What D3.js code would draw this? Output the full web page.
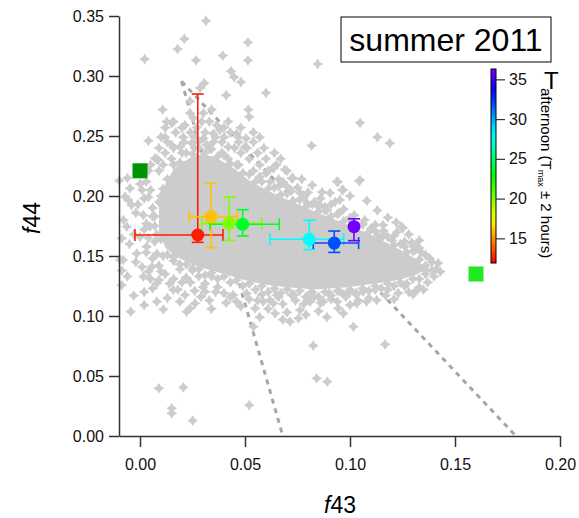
<!DOCTYPE html>
<html>
<head>
<meta charset="utf-8">
<script src="https://cdn.jsdelivr.net/npm/d3@7"></script>
<style>
  body { margin: 0; background: #fff; }
  svg { font-family: "Liberation Sans", Arial, sans-serif; }
</style>
</head>
<body>
<svg id="chart" width="579" height="518"></svg>
<script>
// gray cloud, dense core read as an envelope: f43, upper f44, lower f44
const coreF43    = [0.009, 0.012, 0.016, 0.020, 0.025, 0.030, 0.036, 0.044, 0.052, 0.060, 0.070, 0.083, 0.099, 0.112, 0.123, 0.131, 0.135];
const coreTop    = [0.190, 0.210, 0.222, 0.228, 0.233, 0.235, 0.232, 0.224, 0.213, 0.205, 0.197, 0.187, 0.176, 0.166, 0.156, 0.148, 0.141];
const coreBottom = [0.170, 0.157, 0.151, 0.147, 0.143, 0.140, 0.137, 0.133, 0.129, 0.126, 0.124, 0.122, 0.124, 0.127, 0.130, 0.134, 0.138];

// gray cloud, single points around the core [f43, f44]
const cloudPts = [
  // upper outliers
  [0.0314,0.346],[0.0211,0.331],[0.0179,0.3225],[0.0022,0.314],[0.0267,0.313],[0.0394,0.317],[0.0514,0.328],[0.0514,0.313],
  [0.0433,0.304],[0.0448,0.299],[0.0481,0.295],[0.060,0.286],[0.041,0.284],[0.0306,0.294],[0.0286,0.290],[0.0108,0.272],
  [0.0238,0.279],[0.0341,0.272],[0.0516,0.272],[0.052,0.266],[0.0127,0.262],[0.0151,0.261],[0.0214,0.259],[0.0254,0.265],
  [0.0238,0.269],[0.0302,0.269],[0.0294,0.262],[0.0365,0.259],[0.0381,0.255],[0.0349,0.252],[0.046,0.252],[0.0468,0.249],
  [0.0505,0.248],[0.004,0.246],[0.0119,0.249],[0.0151,0.2425],[0.0206,0.249],[0.019,0.241],[0.0246,0.244],[0.0302,0.248],
  [0.0317,0.2425],[0.0349,0.245],[0.042,0.241],[0.050,0.241],
  [0.0846,0.310],[0.1048,0.261],[0.113,0.249],[0.119,0.244],[0.0817,0.242],
  // upper wedge
  [0.016,0.262],[0.033,0.262],[0.042,0.262],[0.012,0.257],[0.020,0.257],[0.027,0.257],[0.040,0.257],[0.048,0.257],
  [0.017,0.253],[0.024,0.253],[0.031,0.253],[0.043,0.253],[0.054,0.253],[0.010,0.249],[0.026,0.249],[0.036,0.249],
  [0.040,0.249],[0.057,0.249],[0.013,0.245],[0.021,0.245],[0.028,0.245],[0.039,0.245],[0.047,0.245],[0.054,0.245],
  [0.009,0.240],[0.016,0.240],[0.026,0.240],[0.033,0.240],[0.045,0.240],[0.051,0.240],[0.059,0.240],[0.012,0.236],
  [0.020,0.236],[0.039,0.236],[0.048,0.236],[0.056,0.236],[0.064,0.236],[0.008,0.231],[0.015,0.231],[0.042,0.231],
  [0.052,0.231],[0.060,0.231],[0.067,0.231],[0.005,0.226],[0.011,0.226],[0.047,0.226],[0.057,0.226],[0.065,0.226],
  [0.004,0.221],[0.009,0.221],[0.054,0.221],[0.061,0.221],[0.070,0.221],[0.0086,0.230],[0.003,0.212],[0.001,0.205],
  // left edge
  [-0.0099,0.2128],[-0.0071,0.1994],[-0.0079,0.180],[-0.0087,0.1647],[-0.008,0.1467],[-0.0087,0.1258],[-0.0048,0.2064],
  [-0.004,0.1925],[0.0016,0.184],[0.0048,0.1744],[0.000,0.166],[0.0032,0.1578],[-0.0016,0.152],[0.0056,0.141],[0.0016,0.1328],
  [0.008,0.1272],[-0.0056,0.1967],[-0.0063,0.1744],[-0.0095,0.1467],[-0.0087,0.138],[0.0071,0.2314],[0.002,0.198],
  [0.006,0.190],[0.003,0.177],[0.007,0.162],[0.001,0.141],[-0.002,0.186],[0.005,0.205],[-0.003,0.168],
  [-0.006,0.215],[0.000,0.210],[0.004,0.199],[-0.001,0.193],[0.007,0.183],[0.002,0.172],[-0.005,0.160],[0.004,0.165],
  [0.008,0.152],[-0.002,0.145],[0.005,0.131],[-0.006,0.133],[0.010,0.137],[0.006,0.123],[-0.003,0.117],[0.013,0.115],
  [0.008,0.112],[0.002,0.109],
  // lower left
  [0.004,0.137],[0.009,0.142],[0.012,0.135],[0.016,0.146],[0.019,0.139],[0.022,0.132],[0.025,0.140],[0.028,0.133],
  [0.031,0.127],[0.034,0.133],[0.037,0.124],[0.040,0.119],[0.011,0.150],[0.014,0.127],[0.018,0.122],[0.006,0.148],
  [0.003,0.153],[0.020,0.128],[0.026,0.121],[0.029,0.116],[0.033,0.113],[0.043,0.116],[0.046,0.112],[0.009,0.130],[0.002,0.120],
  [0.0214,0.1175],[0.0159,0.1217],[0.031,0.1203],[0.0444,0.1175],[0.0508,0.1189],[0.0222,0.1036],[0.0238,0.1064],
  [0.0262,0.1106],[-0.0044,0.1036],[0.0111,0.1056],
  // lower band edge and low outliers
  [0.0548,0.1064],[0.054,0.0911],[0.0587,0.1119],[0.0619,0.1133],[0.0651,0.1175],[0.0643,0.1022],[0.0635,0.1106],
  [0.0714,0.0953],[0.0754,0.0981],[0.0762,0.105],[0.0722,0.1175],[0.081,0.1119],[0.0873,0.1119],[0.081,0.1189],
  [0.0944,0.1064],[0.0968,0.1022],[0.100,0.1092],[0.1032,0.1106],[0.1079,0.1119],[0.1127,0.1133],[0.1016,0.0911],
  [0.0952,0.1203],[0.100,0.1203],[0.1063,0.1203],[0.131,0.1203],[0.0825,0.0753],[0.1167,0.0764],[0.0841,0.0481],
  [0.0892,0.0453],[0.009,0.0397],[0.0206,0.0406],[0.0151,0.0231],[0.0151,0.0189],[0.0251,0.0128],[0.052,0.0258],
  [0.056,0.113],[0.068,0.110],[0.074,0.113],[0.086,0.111],[0.091,0.114],[0.104,0.113],[0.117,0.117],[0.123,0.119],
  [0.128,0.120],[0.133,0.124],[0.137,0.128],[0.135,0.122],[0.130,0.118],
  [0.016,0.131],[0.024,0.128],[0.030,0.124],[0.036,0.120],[0.041,0.111],[0.048,0.108],[0.052,0.114],[0.058,0.118],
  [0.061,0.106],[0.066,0.116],[0.070,0.103],[0.073,0.118],[0.078,0.110],[0.083,0.116],[0.085,0.104],[0.090,0.119],
  [0.094,0.112],[0.098,0.116],[0.103,0.118],[0.109,0.115],[0.112,0.122],[0.118,0.122],[0.121,0.114],[0.126,0.125],
  [0.019,0.112],[0.034,0.106],[0.057,0.099],[0.068,0.097],[0.079,0.101],[0.089,0.099],
  // right end and upper band edge
  [0.140,0.133],[0.141,0.139],[0.139,0.145],[0.136,0.151],[0.131,0.155],[0.126,0.158],[0.120,0.163],[0.116,0.168],
  [0.110,0.173],[0.106,0.177],[0.100,0.182],[0.095,0.186],[0.088,0.191],[0.083,0.195],[0.078,0.199],[0.072,0.204],
  [0.066,0.208],[0.062,0.212],[0.057,0.216],
  [0.1352,0.140],[0.1329,0.1567],[0.1295,0.1608],[0.1252,0.1733],[0.1224,0.170],[0.1157,0.1758],[0.1133,0.1675],
  [0.1246,0.1744],[0.1294,0.161],[0.132,0.157],[0.1357,0.138],[0.0937,0.212],
  [0.1043,0.2125],[0.0943,0.2117],[0.0867,0.2033],[0.0905,0.2025],[0.0962,0.205],[0.0952,0.1967],[0.0929,0.195],
  [0.0638,0.2242],[0.0681,0.2117],[0.0729,0.215],[0.0762,0.2025],[0.0795,0.1942],[0.0843,0.1925],[0.089,0.1883],
  [0.0635,0.2231],[0.0722,0.2147],[0.1048,0.2133],[0.0968,0.205],[0.0778,0.2008],[0.0857,0.1925],
  [0.060,0.219],[0.066,0.214],[0.070,0.208],[0.075,0.207],[0.080,0.203],[0.086,0.198],[0.091,0.193],[0.097,0.189],
  [0.102,0.184],[0.107,0.180],[0.112,0.176],[0.116,0.171],[0.121,0.167],[0.126,0.162],[0.130,0.158],[0.134,0.153],
  [0.138,0.148],[0.142,0.144],[0.143,0.137],[0.139,0.138],[0.108,0.196],[0.113,0.188],[0.118,0.182],[0.122,0.178],
  [0.128,0.168],[0.133,0.163],[0.077,0.214],[0.082,0.209],[0.069,0.222],[0.100,0.200],
  // core rim, upper side
  [0.010,0.200],[0.013,0.214],[0.016,0.226],[0.019,0.228],[0.022,0.236],[0.025,0.235],[0.028,0.240],[0.031,0.236],
  [0.034,0.239],[0.037,0.233],[0.040,0.234],[0.043,0.227],[0.046,0.226],[0.049,0.219],[0.052,0.218],[0.055,0.212],
  [0.058,0.212],[0.061,0.206],[0.064,0.207],[0.067,0.201],[0.070,0.202],[0.073,0.196],[0.076,0.197],[0.079,0.191],
  [0.082,0.193],[0.085,0.187],[0.088,0.188],[0.091,0.183],[0.094,0.185],[0.097,0.179],[0.100,0.180],[0.103,0.175],
  [0.106,0.176],[0.109,0.170],[0.112,0.171],[0.115,0.165],[0.118,0.166],[0.121,0.159],[0.124,0.160],[0.127,0.153],
  [0.130,0.154],[0.133,0.147],[0.136,0.142],
  // core rim, lower side
  [0.010,0.164],[0.013,0.151],[0.016,0.149],[0.019,0.143],[0.022,0.143],[0.025,0.138],[0.028,0.139],[0.031,0.134],
  [0.034,0.136],[0.037,0.131],[0.040,0.133],[0.043,0.128],[0.046,0.130],[0.049,0.125],[0.052,0.127],[0.055,0.122],
  [0.058,0.125],[0.061,0.120],[0.064,0.123],[0.067,0.119],[0.070,0.122],[0.073,0.117],[0.076,0.121],[0.079,0.116],
  [0.082,0.120],[0.085,0.116],[0.088,0.120],[0.091,0.117],[0.094,0.121],[0.097,0.118],[0.100,0.122],[0.103,0.119],
  [0.106,0.123],[0.109,0.121],[0.112,0.125],[0.115,0.123],[0.118,0.127],[0.121,0.125],[0.124,0.128],[0.127,0.127],
  [0.130,0.131],[0.133,0.131],[0.136,0.135],
  [0.007,0.175],[0.006,0.183],[0.008,0.168],[0.009,0.195],[0.011,0.206]
];

// afternoon means binned by temperature
const binT      = [12.5, 16.0, 20.0, 23.5, 28.2, 31.9, 36.0];
const binF43    = [0.0275, 0.0338, 0.0425, 0.0489, 0.0806, 0.0925, 0.1019];
const binF44    = [0.1675, 0.1828, 0.1772, 0.1764, 0.1639, 0.1608, 0.1744];
const binF43Lo  = [-0.0024, 0.0235, 0.0294, 0.0333, 0.0619, 0.0825, 0.1019];
const binF43Hi  = [0.0395, 0.0462, 0.0580, 0.0663, 0.0970, 0.1041, 0.1019];
const binF44Lo  = [0.1614, 0.1570, 0.1630, 0.1667, 0.1553, 0.1530, 0.1628];
const binF44Hi  = [0.2850, 0.2106, 0.1990, 0.1886, 0.1797, 0.1708, 0.1810];

// reference squares
const refF43 = [0.000, 0.160];
const refF44 = [0.221, 0.135];
const refColors = ['#009400', '#22e822'];

// triangle: apex, lower left, lower right
const triF43 = [0.0198, 0.068, 0.179];
const triF44 = [0.2955, 0.0, 0.0];

const xTicks = [0, 0.05, 0.10, 0.15, 0.20];
const yTicks = [0, 0.05, 0.10, 0.15, 0.20, 0.25, 0.30, 0.35];
const cbTicks = [15, 20, 25, 30, 35];
const cbRange = [11.9, 36.3];

const svg = d3.select('#chart');
const x = d3.scaleLinear().domain([-0.01, 0.20]).range([119, 560]);
const y = d3.scaleLinear().domain([0, 0.35]).range([436, 16]);
const hue = d3.scaleLinear().domain(cbRange).range([0, 270]);
const tColor = (t) => d3.hsl(hue(t), 1, 0.5).formatHex();

// triangle lines, under the cloud
const tri = triF43.map((d, i) => [d, triF44[i]]);
svg.append('g')
  .selectAll('line')
  .data([[tri[0], tri[1]], [tri[0], tri[2]]])
  .join('line')
  .attr('x1', (d) => x(d[0][0])).attr('y1', (d) => y(d[0][1]))
  .attr('x2', (d) => x(d[1][0])).attr('y2', (d) => y(d[1][1]))
  .attr('stroke', '#a6a6a6')
  .attr('stroke-width', 3)
  .attr('stroke-dasharray', '5,5');

// dense core
const core = coreF43.map((d, i) => ({f43: d, top: coreTop[i], bot: coreBottom[i]}));
svg.append('path')
  .datum(core)
  .attr('fill', '#cccccc')
  .attr('d', d3.area().x((d) => x(d.f43)).y0((d) => y(d.bot)).y1((d) => y(d.top)));

// 4 point star marker
const star = 'M0,-5.4L2.1,-2.1L5.4,0L2.1,2.1L0,5.4L-2.1,2.1L-5.4,0L-2.1,-2.1Z';
svg.append('g')
  .selectAll('path')
  .data(cloudPts)
  .join('path')
  .attr('d', star)
  .attr('fill', '#cccccc')
  .attr('transform', (d) => `translate(${x(d[0])},${y(d[1])})`);

// axes
const xAxis = svg.append('g')
  .attr('transform', 'translate(0,436)')
  .call(d3.axisBottom(x).tickValues(xTicks).tickFormat(d3.format('.2f')).tickSize(11).tickSizeOuter(0).tickPadding(12));
const yAxis = svg.append('g')
  .attr('transform', 'translate(119,0)')
  .call(d3.axisLeft(y).tickValues(yTicks).tickFormat(d3.format('.2f')).tickSize(10).tickSizeOuter(0).tickPadding(5));
[xAxis, yAxis].forEach((a) => {
  a.selectAll('path, line').attr('stroke', '#333').attr('stroke-width', 1.5);
  a.selectAll('text').attr('font-size', 16).attr('fill', '#111').attr('font-family', '"Liberation Sans", Arial, sans-serif');
});

svg.append('text')
  .attr('x', 340).attr('y', 513)
  .attr('text-anchor', 'middle')
  .attr('font-size', 23)
  .html('<tspan font-style="italic">f</tspan>43');
svg.append('text')
  .attr('transform', 'translate(40,218) rotate(-90)')
  .attr('text-anchor', 'middle')
  .attr('font-size', 23)
  .html('<tspan font-style="italic">f</tspan>44');

// reference squares
svg.append('g')
  .selectAll('rect')
  .data(refF43)
  .join('rect')
  .attr('x', (d) => x(d) - 7.5)
  .attr('y', (d, i) => y(refF44[i]) - 7.5)
  .attr('width', 15).attr('height', 15)
  .attr('fill', (d, i) => refColors[i]);

// error bars + means
const bins = binT.map((t, i) => ({
  t, f43: binF43[i], f44: binF44[i],
  xlo: binF43Lo[i], xhi: binF43Hi[i], ylo: binF44Lo[i], yhi: binF44Hi[i]
}));
const cap = 6;
const eb = svg.append('g').attr('stroke-width', 1.6).attr('fill', 'none');
bins.forEach((d) => {
  const c = tColor(d.t);
  const g = eb.append('g').attr('stroke', c);
  const cx = x(d.f43), cy = y(d.f44);
  if (d.xhi > d.xlo) {
    g.append('line').attr('x1', x(d.xlo)).attr('x2', x(d.xhi)).attr('y1', cy).attr('y2', cy);
    g.append('line').attr('x1', x(d.xlo)).attr('x2', x(d.xlo)).attr('y1', cy - cap).attr('y2', cy + cap);
    g.append('line').attr('x1', x(d.xhi)).attr('x2', x(d.xhi)).attr('y1', cy - cap).attr('y2', cy + cap);
  }
  g.append('line').attr('x1', cx).attr('x2', cx).attr('y1', y(d.ylo)).attr('y2', y(d.yhi));
  g.append('line').attr('x1', cx - cap).attr('x2', cx + cap).attr('y1', y(d.ylo)).attr('y2', y(d.ylo));
  g.append('line').attr('x1', cx - cap).attr('x2', cx + cap).attr('y1', y(d.yhi)).attr('y2', y(d.yhi));
});
svg.append('g')
  .selectAll('circle')
  .data(bins)
  .join('circle')
  .attr('cx', (d) => x(d.f43))
  .attr('cy', (d) => y(d.f44))
  .attr('r', 6.5)
  .attr('fill', (d) => tColor(d.t));

// title box
svg.append('rect')
  .attr('x', 341).attr('y', 17).attr('width', 210).attr('height', 45)
  .attr('fill', '#fff').attr('stroke', '#000').attr('stroke-width', 1);
svg.append('text')
  .attr('x', 446).attr('y', 51)
  .attr('text-anchor', 'middle')
  .attr('font-size', 32)
  .text('summer 2011');

// colour bar
const cbY = d3.scaleLinear().domain(cbRange).range([263, 69]);
const grad = svg.append('defs').append('linearGradient')
  .attr('id', 'tgrad').attr('x1', 0).attr('x2', 0).attr('y1', 1).attr('y2', 0);
grad.selectAll('stop')
  .data(d3.range(0, 1.0001, 0.05))
  .join('stop')
  .attr('offset', (d) => d)
  .attr('stop-color', (d) => tColor(cbRange[0] + d * (cbRange[1] - cbRange[0])));
svg.append('rect')
  .attr('x', 491).attr('y', cbY(cbRange[1]))
  .attr('width', 5).attr('height', cbY(cbRange[0]) - cbY(cbRange[1]))
  .attr('fill', 'url(#tgrad)')
  .attr('stroke', '#000').attr('stroke-width', 1);
const cbAxis = svg.append('g')
  .attr('transform', 'translate(496,0)')
  .call(d3.axisRight(cbY).tickValues(cbTicks).tickSize(9).tickPadding(4));
cbAxis.select('.domain').remove();
cbAxis.selectAll('line').attr('stroke', '#333').attr('stroke-width', 1.2);
cbAxis.selectAll('text').attr('font-size', 16).attr('fill', '#111').attr('font-family', '"Liberation Sans", Arial, sans-serif');

svg.append('text')
  .attr('x', 544).attr('y', 89)
  .attr('font-size', 24)
  .text('T');
svg.append('text')
  .attr('transform', 'translate(541,88) rotate(90)')
  .attr('font-size', 15)
  .html('afternoon (T<tspan font-size="9" dy="3">max</tspan><tspan dy="-3"> ± 2 hours)</tspan>');
</script>
</body>
</html>
